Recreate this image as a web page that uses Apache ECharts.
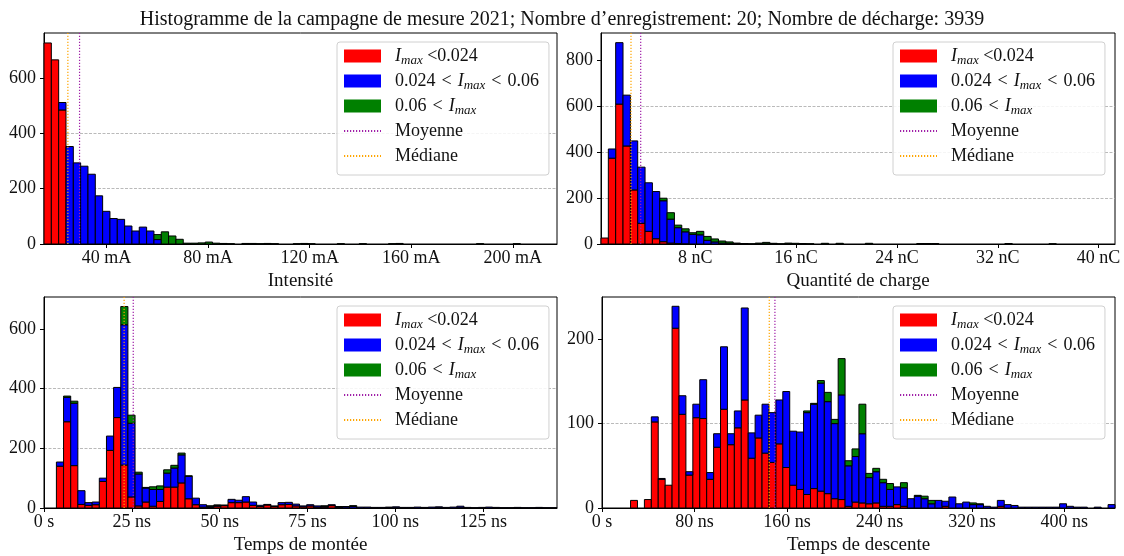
<!DOCTYPE html>
<html><head><meta charset="utf-8">
<script src="https://cdn.jsdelivr.net/npm/echarts@6/dist/echarts.min.js"></script>
<style>html,body{margin:0;padding:0;background:#fff}#c{width:1124px;height:556px}</style>
</head><body><div id="c"></div>
<script>
const titleText = 'Histogramme de la campagne de mesure 2021; Nombre d\u2019enregistrement: 20; Nombre de décharge: 3939';
const legendNames = ['low', 'mid', 'high', 'Moyenne', 'Médiane'];

// ---- Intensité (mA) ----
const intBinStart = 15.4, intBinWidth = 2.886, intXMax = 217.4, intYMax = 762;
const intTicks = [40, 80, 120, 160, 200];
const intYTicks = [0, 200, 400, 600];
const intRed = [726,665,484,0,0,0,0,0,0,0, 0,0,0,0,0,0,0,0,0,0, 0,0,0,0,0,0,0,0,0,0, 0,0,0,0,0,0,0,0,0,0, 0,0,0,0,0,0,0,0,0,0, 0,0,0,0,0,0,0,0,0,0, 0,0,0,0,0,0,0,0,0,0];
const intBlue = [0,0,27,352,293,281,252,174,118,92, 89,65,47,61,47,16,0,0,0,0, 0,0,0,0,0,0,0,0,0,0, 0,0,0,0,0,0,0,0,0,0, 0,0,0,0,0,0,0,0,0,0, 0,0,0,0,0,0,0,0,0,0, 0,0,0,0,0,0,0,0,0,0];
const intGreen = [0,0,0,0,0,0,0,0,0,0, 0,0,0,0,0,18,44,29,17,3, 3,4,7,3,2,1,0,2,2,1, 2,1,0,0,1,2,1,0,0,0, 1,0,0,1,0,0,0,1,2,0, 0,0,0,0,0,0,0,0,0,1, 0,0,0,0,1,0,0,0,0,0];
const intMean = 29.4, intMedian = 24.8;

// ---- Quantité de charge (nC) ----
const chgBinStart = 0.52, chgBinWidth = 0.5826, chgXMax = 41.3, chgYMax = 917;
const chgTicks = [8, 16, 24, 32, 40];
const chgYTicks = [0, 200, 400, 600, 800];
const chgRed = [26,373,608,426,235,90,55,23,10,4, 2,1,0,0,0,0,0,0,0,0, 0,0,0,0,0,0,0,0,0,0, 0,0,0,0,0,0,0,0,0,0, 0,0,0,0,0,0,0,0,0,0, 0,0,0,0,0,0,0,0,0,0, 0,0,0,0,0,0,0,0,0,0];
const chgBlue = [0,40,267,221,213,244,211,205,178,104, 69,52,42,40,16,9,4,3,2,1, 0,1,1,1,0,1,0,0,0,0, 0,0,0,0,0,0,0,0,0,0, 0,0,0,0,0,0,0,0,0,0, 0,0,0,0,0,0,0,0,0,0, 0,0,0,0,0,0,0,0,0,0];
const chgGreen = [0,0,0,0,0,0,0,0,11,28, 11,13,7,15,17,13,9,6,2,1, 1,3,6,2,1,3,3,2,1,0, 3,0,3,0,0,0,3,0,0,0, 0,0,0,2,2,2,0,0,0,0, 0,0,0,0,0,2,0,0,0,0, 0,1,0,0,0,0,0,0,0,0];
const chgMean = 3.67, chgMedian = 2.9;

// ---- Temps de montée (ns) ----
const riseBinStart = 3.53, riseBinWidth = 2.035, riseXMax = 146, riseYMax = 707;
const riseTicks = [0, 25, 50, 75, 100, 125];
const riseYTicks = [0, 200, 400, 600];
const riseRed = [140,289,142,12,9,11,89,193,303,144, 37,7,20,6,22,70,70,84,31,11, 3,2,6,8,18,18,20,9,5,10, 5,11,12,7,4,7,3,3,8,2, 0,0,0,0,0,0,1,1,0,0, 0,0,0,1,0,0,1,0,0,0, 0,0,0,0,0,0,0,0,0,0];
const riseBlue = [14,82,209,46,9,9,11,48,101,470, 247,107,47,56,40,47,64,94,75,22, 8,4,3,2,11,8,18,11,4,2, 2,7,7,6,3,4,4,3,3,3, 4,5,3,3,2,2,2,3,2,2, 3,2,3,3,2,3,5,2,1,2, 3,2,1,1,2,1,1,2,1,1];
const riseGreen = [0,4,7,0,0,0,0,0,0,61, 27,6,2,9,12,11,9,6,2,0, 0,1,1,0,0,0,0,0,0,0, 0,0,0,0,0,0,0,1,0,0, 1,3,0,0,0,0,0,0,0,0, 0,0,0,0,0,0,0,0,0,0, 0,0,0,0,0,0,0,0,0,0];
const riseMean = 25.4, riseMedian = 22.8;

// ---- Temps de descente (ns) ----
const fallBinStart = 24.7, fallBinWidth = 5.987, fallXMax = 443.8, fallYMax = 250;
const fallTicks = [0, 80, 160, 240, 320, 400];
const fallYTicks = [0, 100, 200];
const fallRed = [9,0,10,102,34,27,213,111,39,107, 106,34,72,117,75,95,128,59,83,65, 54,76,48,27,22,16,23,20,17,11, 10,2,7,6,5,6,2,2,4,2, 0,0,0,0,0,2,0,0,0,0, 0,0,0,2,0,0,0,0,0,0, 0,0,0,0,0,0,0,0,0,0];
const fallBlue = [0,0,0,6,1,0,26,22,4,16, 46,8,16,74,13,20,109,30,27,58, 59,52,90,64,68,97,100,128,109,89, 124,48,54,82,31,37,28,20,21,22, 11,14,11,5,9,6,13,5,7,4, 4,2,1,7,4,3,1,1,1,1, 1,1,5,2,1,1,0,1,0,4];
const fallGreen = [0,0,0,0,0,0,0,0,0,0, 0,0,0,0,0,0,0,0,0,0, 0,0,0,0,0,2,1,3,11,5, 43,6,9,35,5,4,4,7,0,6, 0,1,3,4,0,0,0,0,0,2, 1,0,0,0,0,0,0,0,0,0, 0,0,0,0,0,0,0,0,0,0];
const fallMean = 149.6, fallMedian = 144.7;

const FONT = 'Liberation Serif';
const FS = 18;
const TXT = '#111';
const colors = {low: '#ff0000', mid: '#0000ff', high: '#008000', mean: '#a020a8', median: '#ffa500'};

const panels = [
  {grid: {left: 44, top: 33, width: 513, height: 211}, name: 'Intensité', unit: ' mA', zeroLabel: null,
   start: intBinStart, width: intBinWidth, xmin: intBinStart, xmax: intXMax, ymax: intYMax, ticks: intTicks, yticks: intYTicks,
   layers: [intRed, intBlue, intGreen], mean: intMean, median: intMedian, legend: {left: 337, top: 42}},
  {grid: {left: 601, top: 33, width: 514, height: 211}, name: 'Quantité de charge', unit: ' nC', zeroLabel: null,
   start: chgBinStart, width: chgBinWidth, xmin: chgBinStart, xmax: chgXMax, ymax: chgYMax, ticks: chgTicks, yticks: chgYTicks,
   layers: [chgRed, chgBlue, chgGreen], mean: chgMean, median: chgMedian, legend: {left: 893, top: 42}},
  {grid: {left: 44, top: 297, width: 513, height: 212}, name: 'Temps de montée', unit: ' ns', zeroLabel: '0 s',
   start: riseBinStart, width: riseBinWidth, xmin: 0, xmax: riseXMax, ymax: riseYMax, ticks: riseTicks, yticks: riseYTicks,
   layers: [riseRed, riseBlue, riseGreen], mean: riseMean, median: riseMedian, legend: {left: 337, top: 306}},
  {grid: {left: 602, top: 297, width: 513, height: 212}, name: 'Temps de descente', unit: ' ns', zeroLabel: '0 s',
   start: fallBinStart, width: fallBinWidth, xmin: 0, xmax: fallXMax, ymax: fallYMax, ticks: fallTicks, yticks: fallYTicks,
   layers: [fallRed, fallBlue, fallGreen], mean: fallMean, median: fallMedian, legend: {left: 893, top: 306}}
];

function buildStack(start, width, layers) {
  const out = layers.map(() => []);
  for (let i = 0; i < layers[0].length; i++) {
    let base = 0;
    const x0 = start + i * width, x1 = start + (i + 1) * width;
    layers.forEach((arr, k) => {
      const v = arr[i];
      if (v > 0) out[k].push([x0, x1, base, base + v]);
      base += v;
    });
  }
  return out;
}

function renderBar(params, api) {
  const a = api.coord([api.value(0), api.value(2)]);
  const b = api.coord([api.value(1), api.value(3)]);
  return {type: 'rect', shape: {x: a[0], y: b[1], width: b[0] - a[0], height: a[1] - b[1]},
    style: {fill: api.visual('color'), stroke: '#000', lineWidth: 1}};
}

const rich = {
  n: {fontFamily: FONT, fontSize: FS, color: TXT, lineHeight: 22},
  i: {fontFamily: FONT, fontSize: FS, fontStyle: 'italic', color: TXT, lineHeight: 22},
  s: {fontFamily: FONT, fontSize: 13, fontStyle: 'italic', color: TXT, lineHeight: 13, padding: [9, 0, 0, 0]}
};
const SP = '\u2004';
function legendFormatter(name) {
  if (name === 'low') return '{i|I}{s|max}{n| <0.024}';
  if (name === 'mid') return '{n|0.024' + SP + '<' + SP + '}{i|I}{s|max}{n|' + SP + '<' + SP + '0.06}';
  if (name === 'high') return '{n|0.06' + SP + '<' + SP + '}{i|I}{s|max}';
  return '{n|' + name + '}';
}

const option = {
  animation: false,
  backgroundColor: '#fff',
  title: {text: titleText, left: 'center', top: 5,
    textStyle: {fontFamily: FONT, fontSize: 20, fontWeight: 'normal', color: TXT}},
  grid: [], xAxis: [], yAxis: [], series: [], legend: []
};

panels.forEach((p, idx) => {
  option.grid.push(Object.assign({show: true, borderColor: '#000', borderWidth: 1, containLabel: false}, p.grid));
  option.xAxis.push({
    type: 'value', gridIndex: idx, min: p.xmin, max: p.xmax,
    name: p.name, nameLocation: 'middle', nameGap: 28,
    nameTextStyle: {fontFamily: FONT, fontSize: 19, color: TXT},
    axisLine: {show: true, onZero: false, lineStyle: {color: '#000', width: 1}},
    axisTick: {show: true, length: 4, lineStyle: {color: '#000'}, customValues: p.ticks},
    axisLabel: {customValues: p.ticks, margin: 5, fontFamily: FONT, fontSize: FS, color: TXT,
      formatter: v => (v === 0 && p.zeroLabel) ? p.zeroLabel : (Math.round(v) + p.unit)},
    splitLine: {show: false}
  });
  option.yAxis.push({
    type: 'value', gridIndex: idx, min: 0, max: p.ymax, interval: p.yticks[1] - p.yticks[0],
    axisLine: {show: true, lineStyle: {color: '#000', width: 1}},
    axisTick: {show: true, length: 4, lineStyle: {color: '#000'}, customValues: p.yticks},
    axisLabel: {customValues: p.yticks, margin: 8, fontFamily: FONT, fontSize: FS, color: TXT},
    splitLine: {show: true, showMinLine: false, showMaxLine: false,
      lineStyle: {color: '#a8a8a8', width: 0.8, type: [3, 1.5]}}
  });
  const stacks = buildStack(p.start, p.width, p.layers);
  ['low', 'mid', 'high'].forEach((nm, k) => {
    option.series.push({
      type: 'custom', name: nm, xAxisIndex: idx, yAxisIndex: idx,
      renderItem: renderBar, itemStyle: {color: colors[nm]},
      encode: {x: [0, 1], y: [2, 3]}, data: stacks[k], z: 2, silent: true
    });
  });
  [['Moyenne', p.mean, colors.mean], ['Médiane', p.median, colors.median]].forEach(([nm, v, c]) => {
    option.series.push({
      type: 'line', name: nm, xAxisIndex: idx, yAxisIndex: idx,
      data: [[v, 0], [v, p.ymax]], symbol: 'none', showSymbol: false, silent: true, z: 5,
      itemStyle: {color: c},
      lineStyle: {color: c, width: 1.2, type: [1.2, 1.8]}
    });
  });
  option.legend.push({
    orient: 'vertical', left: p.legend.left, top: p.legend.top,
    padding: [3, 10, 8, 6], itemWidth: 37, itemHeight: 13, itemGap: 3,
    backgroundColor: 'rgba(255,255,255,0.85)', borderColor: '#d0d0d0', borderWidth: 1, borderRadius: 3,
    selectedMode: false,
    data: [{name: 'low', icon: 'rect'}, {name: 'mid', icon: 'rect'}, {name: 'high', icon: 'rect'},
      {name: 'Moyenne', itemStyle: {opacity: 0}}, {name: 'Médiane', itemStyle: {opacity: 0}}],
    formatter: legendFormatter,
    textStyle: {fontFamily: FONT, fontSize: FS, color: TXT, lineHeight: 22, padding: [0, 0, 0, 9], rich: rich}
  });
});

const chart = echarts.init(document.getElementById('c'), null, {renderer: 'canvas'});
chart.setOption(option);
</script>
</body></html>
